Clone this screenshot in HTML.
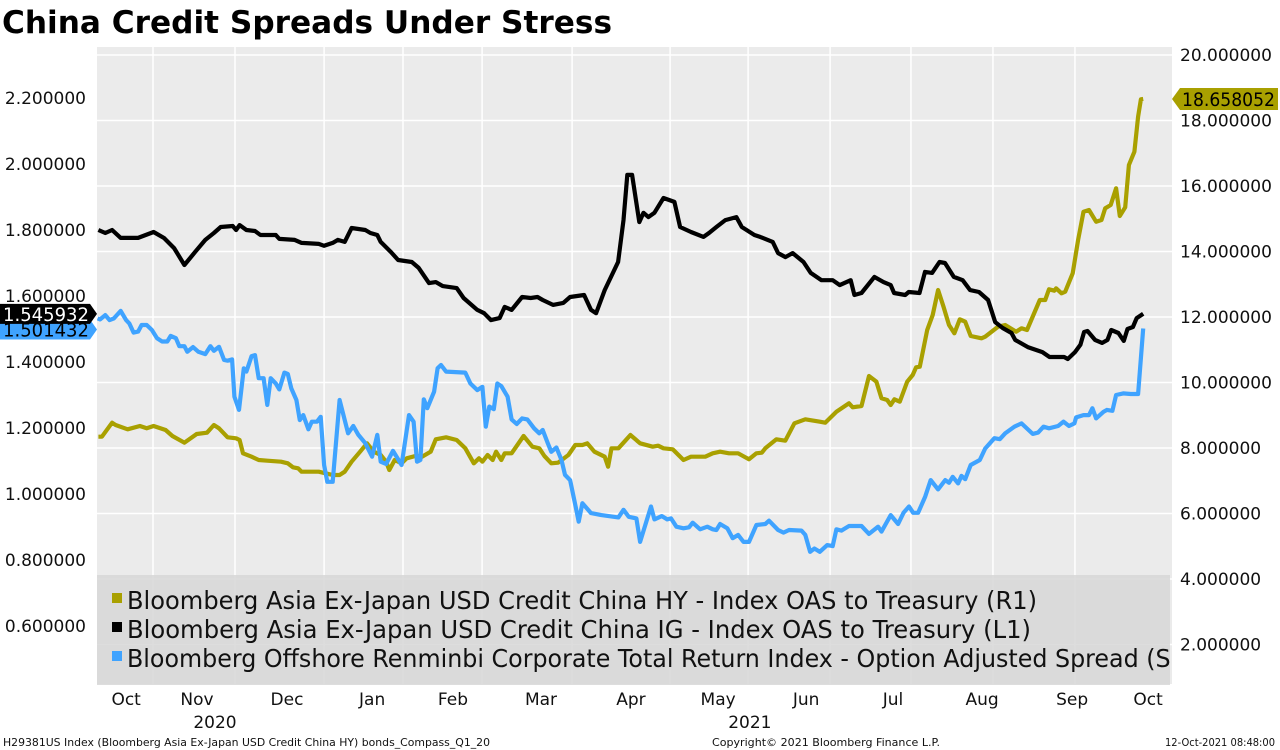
<!DOCTYPE html>
<html><head><meta charset="utf-8"><title>China Credit Spreads Under Stress</title>
<style>
html,body{margin:0;padding:0;background:#fff;}
svg{display:block;}
text{font-family:"DejaVu Sans","Liberation Sans",sans-serif;}
</style></head>
<body>
<svg id="chart" width="1280" height="750" viewBox="0 0 1280 750" xmlns="http://www.w3.org/2000/svg">
<defs><clipPath id="plotclip"><rect x="97" y="47" width="1075" height="637"/></clipPath>
<clipPath id="legclip"><rect x="97" y="575" width="1073" height="110"/></clipPath></defs>
<text x="2" y="33" font-size="31" font-weight="bold" textLength="610" lengthAdjust="spacingAndGlyphs" fill="#000">China Credit Spreads Under Stress</text>
<rect x="97" y="47" width="1075" height="637" fill="#ebebeb"/>
<g id="grid"></g>
<g id="series" clip-path="url(#plotclip)"></g>
<g id="legend">
<rect x="97" y="575" width="1073" height="110" fill="rgba(214,214,214,0.82)"/>
<g clip-path="url(#legclip)">
<rect x="112" y="593" width="10" height="10" fill="#a9a000"/>
<text x="127" y="609" font-size="25" textLength="910" lengthAdjust="spacingAndGlyphs" fill="#111">Bloomberg Asia Ex-Japan USD Credit China HY - Index OAS to Treasury (R1)</text>
<rect x="112" y="622" width="10" height="10" fill="#000"/>
<text x="127" y="638" font-size="25" textLength="904" lengthAdjust="spacingAndGlyphs" fill="#111">Bloomberg Asia Ex-Japan USD Credit China IG - Index OAS to Treasury (L1)</text>
<rect x="112" y="651" width="10" height="10" fill="#3fa3ff"/>
<text x="127" y="667" font-size="25" textLength="1068" lengthAdjust="spacingAndGlyphs" fill="#111">Bloomberg Offshore Renminbi Corporate Total Return Index - Option Adjusted Spread (S1)</text>
</g></g>
<g id="axes"></g>
<text x="3" y="746" font-size="11" textLength="487" lengthAdjust="spacingAndGlyphs" fill="#111">H29381US Index (Bloomberg Asia Ex-Japan USD Credit China HY) bonds_Compass_Q1_20</text>
<text x="712" y="746" font-size="11" textLength="228" lengthAdjust="spacingAndGlyphs" fill="#111">Copyright© 2021 Bloomberg Finance L.P.</text>
<text x="1165" y="746" font-size="11" textLength="110" lengthAdjust="spacingAndGlyphs" fill="#111">12-Oct-2021 08:48:00</text>
</svg>
<script>
// ---- data (day index from start of window) ----
const igDays=[0.5,2.9,5.3,8.3,14.4,19.8,23.4,27.0,30.6,34.3,37.9,40.9,43.3,47.5,48.7,49.9,52.3,55.3,57.2,59.6,62.6,63.8,69.2,71.6,77.6,79.5,82.5,84.3,86.7,89.1,93.9,95.7,98.1,99.3,102.9,105.4,110.2,112.6,116.2,118.6,121.0,125.9,128.3,133.1,135.5,137.9,140.9,142.7,145.1,148.8,151.8,154.2,156.0,159.6,163.2,165.6,170.5,172.9,174.7,177.7,182.4,184.3,185.6,187.3,189.8,191.3,193.0,195.1,198.3,202.1,204.1,207.9,212.3,214.2,216.8,219.9,223.8,225.7,230.1,232.1,236.5,238.4,241.0,243.5,247.3,249.8,253.6,257.5,260.0,263.8,265.1,267.6,272.1,275.3,277.8,279.0,282.9,284.1,287.9,289.8,292.3,294.9,296.8,299.9,303.0,305.6,308.7,311.9,314.4,317.0,320.1,321.4,325.8,330.9,333.4,338.5,339.8,342.3,344.2,345.5,346.7,349.3,351.8,353.7,355.0,357.5,359.4,360.7,362.6,363.9,366.2];
const igValues=[1.800,1.791,1.800,1.776,1.776,1.794,1.776,1.745,1.694,1.733,1.770,1.791,1.809,1.812,1.800,1.815,1.800,1.797,1.785,1.785,1.785,1.773,1.770,1.761,1.758,1.752,1.761,1.770,1.764,1.806,1.800,1.791,1.785,1.764,1.733,1.709,1.703,1.685,1.639,1.642,1.630,1.624,1.594,1.558,1.548,1.527,1.533,1.567,1.558,1.597,1.594,1.597,1.588,1.573,1.579,1.597,1.603,1.558,1.548,1.618,1.703,1.830,1.967,1.967,1.824,1.852,1.839,1.852,1.897,1.885,1.809,1.794,1.779,1.791,1.809,1.830,1.839,1.809,1.785,1.779,1.764,1.730,1.718,1.730,1.703,1.670,1.648,1.648,1.633,1.648,1.603,1.609,1.658,1.642,1.633,1.609,1.603,1.612,1.609,1.673,1.670,1.703,1.700,1.658,1.648,1.618,1.612,1.588,1.521,1.503,1.488,1.467,1.445,1.430,1.415,1.415,1.409,1.430,1.452,1.491,1.494,1.467,1.458,1.467,1.497,1.488,1.464,1.500,1.506,1.533,1.545932];
const hyDays=[0.5,1.7,5.3,6.5,10.7,15.0,17.4,19.8,24.0,26.4,30.6,34.9,38.5,40.9,42.7,45.7,48.7,49.9,51.1,54.1,56.6,59.6,64.4,66.8,68.6,70.4,71.6,77.6,80.0,82.5,84.9,86.7,89.1,92.1,94.5,96.9,99.3,101.2,102.3,104.2,106.6,108.4,111.4,113.8,116.8,118.6,122.2,125.9,128.9,131.9,133.7,134.9,136.7,138.5,139.7,141.5,142.7,145.1,149.3,152.4,154.8,156.6,159.0,161.4,165.0,167.4,169.9,171.6,174.1,177.7,178.9,180.1,182.5,184.9,186.7,190.1,194.5,196.4,198.3,201.5,205.3,207.9,212.9,215.5,218.1,221.2,224.4,228.2,230.8,232.7,233.9,237.8,240.9,244.1,247.9,253.0,254.9,258.8,263.2,264.5,267.6,270.2,272.8,274.6,276.6,277.8,279.1,281.0,283.6,285.5,286.7,288.0,290.6,292.5,294.4,296.3,298.2,300.1,302.0,303.9,305.8,309.6,310.9,315.4,317.9,321.7,323.6,325.5,330.0,331.9,333.2,335.1,335.7,337.6,338.9,341.5,343.4,345.3,347.2,349.7,351.6,352.9,354.8,356.7,358.0,359.9,361.2,363.1,364.4,365.4,366.2];
const hyValues=[8.345,8.345,8.773,8.702,8.571,8.672,8.601,8.672,8.550,8.366,8.162,8.427,8.467,8.702,8.601,8.326,8.296,8.244,7.838,7.734,7.634,7.612,7.582,7.533,7.411,7.380,7.277,7.277,7.227,7.176,7.176,7.277,7.582,7.887,8.143,7.887,7.786,7.582,7.328,7.634,7.533,7.685,7.756,7.734,7.887,8.265,8.326,8.244,7.991,7.533,7.685,7.582,7.786,7.634,7.887,7.634,7.838,7.838,8.366,8.040,7.991,7.756,7.533,7.552,7.786,8.092,8.092,8.143,7.887,7.734,7.429,7.991,7.991,8.223,8.397,8.143,8.040,8.070,7.991,7.959,7.634,7.734,7.734,7.838,7.887,7.838,7.838,7.655,7.838,7.857,7.991,8.265,8.223,8.754,8.875,8.804,8.773,9.109,9.364,9.242,9.282,10.198,10.025,9.517,9.466,9.313,9.487,9.415,10.025,10.229,10.464,10.483,11.603,12.061,12.824,12.315,11.756,11.502,11.930,11.857,11.420,11.350,11.398,11.704,11.756,11.551,11.655,11.603,12.519,12.519,12.846,12.803,12.876,12.724,12.773,13.334,14.351,15.215,15.267,14.910,14.962,15.319,15.420,15.930,15.084,15.350,16.641,17.047,18.116,18.647,18.658052];
const cnyDays=[0.2,1.1,2.9,4.4,5.9,8.3,10.2,11.3,12.8,14.4,15.6,17.4,19.2,21.0,22.8,24.6,25.8,27.6,28.8,30.6,31.6,33.6,35.5,37.9,39.7,40.9,42.7,44.5,45.7,47.3,48.1,49.7,51.4,52.3,54.1,55.3,56.6,58.3,59.6,60.8,62.6,63.8,65.6,66.8,68.0,69.8,71.0,72.2,74.0,75.2,77.0,78.3,79.5,80.6,82.5,84.9,87.9,89.7,91.5,93.9,96.3,98.1,99.3,101.2,103.6,106.6,109.2,110.8,112.0,113.2,114.4,115.6,118.0,119.2,120.4,122.2,128.9,130.7,133.1,134.9,136.1,137.3,138.9,140.1,141.5,143.7,145.1,146.9,148.8,150.6,153.0,154.8,156.0,157.8,159.0,160.8,162.6,163.8,165.6,167.4,168.6,169.9,172.9,176.5,182.5,184.3,186.1,188.8,190.1,191.9,193.9,195.1,197.7,199.6,200.9,202.8,205.3,207.2,208.5,211.1,213.6,215.5,216.8,218.1,220.6,222.5,224.4,226.3,228.2,230.8,233.9,235.2,238.4,240.3,242.2,246.6,247.9,249.6,251.1,253.0,255.6,257.5,258.8,260.6,263.2,267.6,270.2,273.4,274.6,277.8,280.4,282.3,284.2,285.7,287.4,289.9,291.8,294.4,296.9,298.2,299.5,301.4,302.6,303.9,305.8,309.0,310.9,314.1,316.0,317.9,321.1,323.6,327.5,329.4,331.3,333.2,336.4,338.3,340.2,342.1,342.7,345.3,347.2,348.4,349.7,352.3,353.5,355.4,356.7,359.2,361.8,364.4,366.2];
const cnyValues=[1.532,1.529,1.542,1.527,1.532,1.555,1.527,1.517,1.489,1.492,1.512,1.512,1.497,1.472,1.462,1.462,1.479,1.472,1.448,1.448,1.431,1.445,1.431,1.424,1.448,1.434,1.446,1.406,1.404,1.408,1.295,1.255,1.381,1.371,1.418,1.421,1.351,1.351,1.270,1.351,1.335,1.317,1.368,1.364,1.320,1.285,1.224,1.239,1.196,1.219,1.219,1.234,1.088,1.037,1.037,1.285,1.184,1.206,1.179,1.154,1.113,1.179,1.098,1.091,1.131,1.088,1.239,1.219,1.098,1.103,1.287,1.260,1.310,1.381,1.391,1.371,1.368,1.335,1.315,1.325,1.204,1.265,1.257,1.335,1.327,1.295,1.226,1.212,1.229,1.226,1.199,1.184,1.194,1.154,1.128,1.141,1.103,1.058,1.042,0.967,0.916,0.972,0.942,0.936,0.929,0.952,0.931,0.926,0.855,0.906,0.962,0.923,0.933,0.923,0.926,0.901,0.896,0.899,0.913,0.893,0.901,0.893,0.891,0.909,0.896,0.866,0.876,0.855,0.855,0.906,0.909,0.919,0.891,0.883,0.891,0.889,0.876,0.825,0.835,0.825,0.845,0.842,0.893,0.889,0.903,0.903,0.879,0.901,0.886,0.936,0.909,0.943,0.962,0.943,0.943,0.992,1.042,1.014,1.042,1.034,1.052,1.032,1.055,1.045,1.088,1.103,1.138,1.169,1.166,1.184,1.204,1.214,1.182,1.186,1.204,1.199,1.206,1.219,1.206,1.214,1.232,1.239,1.239,1.260,1.229,1.249,1.255,1.252,1.300,1.305,1.303,1.303,1.501432];
const leftTicks=[0.6,0.8,1.0,1.2,1.4,1.6,1.8,2.0,2.2];
const rightTicks=[2,4,6,8,10,12,14,16,18,20];
const monthBoundaryDays=[19.6,48.3,79.5,107.1,134.8,166.3,200.6,227.9,256.6,284.9,313.6,342.3];
const monthLabels=["Oct","Nov","Dec","Jan","Feb","Mar","Apr","May","Jun","Jul","Aug","Sep","Oct"];
const monthLabelDays=[10.2,35,66.5,96.3,124.6,155.4,186.9,217.4,248.2,278.6,309.8,341.3,367.9];
const yearLabels=["2020","2021"];
const yearLabelDays=[41.3,228.5];

// ---- scales ----
const xS=d=>97+d*2.857;
const yL=v=>494-(v-1)*330;
const yR=v=>317-(v-12)*32.75;
const NS="http://www.w3.org/2000/svg";
function mk(tag,attrs,parent){const e=document.createElementNS(NS,tag);for(const k in attrs)e.setAttribute(k,attrs[k]);parent.appendChild(e);return e;}
const grid=document.getElementById('grid'),series=document.getElementById('series'),axes=document.getElementById('axes');

rightTicks.forEach(t=>{const y=yR(t);if(y<47||y>684)return;
 const l=mk('line',{x1:97,x2:1172,y1:y,y2:y,stroke:'#fff','stroke-width':1.5},grid);
 
 });
monthBoundaryDays.forEach(d=>{
 const l=mk('line',{x1:xS(d),x2:xS(d),y1:47,y2:684,stroke:'#fff','stroke-width':1.5},grid);
 
 });

function drawLine(days,vals,ys,color,name){
 const pts=days.map((d,i)=>xS(d).toFixed(1)+','+ys(vals[i]).toFixed(1)).join(' ');
 const p=mk('polyline',{points:pts,fill:'none',stroke:color,'stroke-width':4.2,'stroke-linejoin':'round'},series);
 
 }
drawLine(hyDays,hyValues,yR,'#a9a000','line-china-hy-oas');
drawLine(cnyDays,cnyValues,yL,'#3fa3ff','line-renminbi-oas');
drawLine(igDays,igValues,yL,'#000000','line-china-ig-oas');

leftTicks.forEach(t=>{
 const e=mk('text',{x:86,y:yL(t)+6,'font-size':17,'text-anchor':'end',fill:'#111'},axes);
 e.textContent=t.toFixed(6);
 
 });
rightTicks.forEach(t=>{
 const e=mk('text',{x:1180,y:yR(t)+6,'font-size':17,fill:'#111'},axes);
 e.textContent=t.toFixed(6);
 
 });
monthLabels.forEach((m,i)=>{
 const e=mk('text',{x:xS(monthLabelDays[i]),y:705,'font-size':17,'text-anchor':'middle',fill:'#111'},axes);
 e.textContent=m;
 
 });
yearLabels.forEach((m,i)=>{
 const e=mk('text',{x:xS(yearLabelDays[i]),y:728,'font-size':17,'text-anchor':'middle',fill:'#111'},axes);
 e.textContent=m;
 
 });

// last-value tags
function tag(v,y,side,bg,fg,name){
 let poly;
 if(side==='right') poly=`1172,${y} 1180,${y-11} 1278,${y-11} 1278,${y+11} 1180,${y+11}`;
 else poly=`0,${y-10} 90,${y-10} 97,${y} 90,${y+10} 0,${y+10}`;
 const g=mk('g',{},axes);
 
 
 mk('polygon',{points:poly,fill:bg},g);
 const t=mk('text',{x:side==='right'?1182:3,y:y+7,'font-size':19,fill:fg,textLength:side==='right'?93:86,lengthAdjust:'spacingAndGlyphs'},g);
 t.textContent=v.toFixed(6);}
tag(hyValues[hyValues.length-1],yR(hyValues[hyValues.length-1]),'right','#a9a000','#000','last-value-tag-hy');
tag(cnyValues[cnyValues.length-1],yL(cnyValues[cnyValues.length-1])+1,'left','#3fa3ff','#000','last-value-tag-renminbi');
tag(igValues[igValues.length-1],yL(igValues[igValues.length-1]),'left','#000','#fff','last-value-tag-ig');
</script>
</body></html>
